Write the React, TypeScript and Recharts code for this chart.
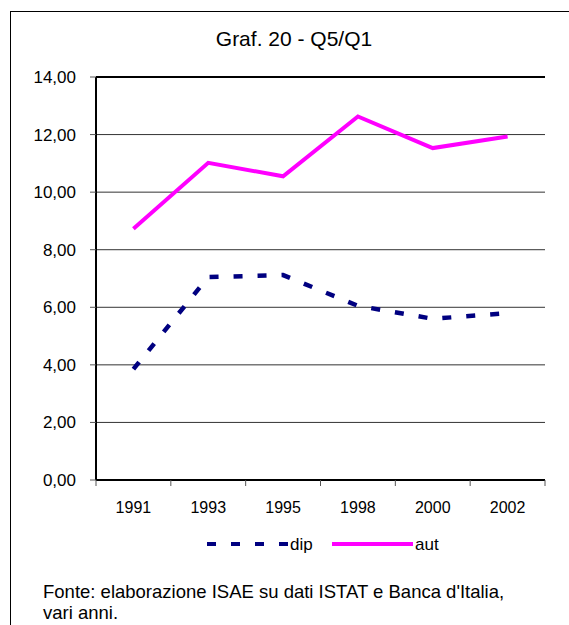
import React from 'react'
import { LineChart, Line, XAxis, YAxis, CartesianGrid, ReferenceLine } from 'recharts'

const years = ['1991', '1993', '1995', '1998', '2000', '2002']
const dip = [3.85, 7.05, 7.12, 6.05, 5.6, 5.8]
const aut = [8.73, 11.02, 10.55, 12.63, 11.53, 11.93]
const yTicks = [0, 2, 4, 6, 8, 10, 12, 14]

const FONT = '"Liberation Sans", Arial, sans-serif'
const fmt = (v: number) => v.toFixed(2).replace('.', ',')

const data = years.map((y, i) => ({ year: y, dip: dip[i], aut: aut[i] }))

const TICK_SIZE = 6
const TICK_MARGIN = 16

// year label plus Excel-style tick marks on the band edges
const YearTick = (props: any) => {
  const { x, y, payload, index, visibleTicksCount } = props
  const half = payload?.offset || 37.4
  const axisY = y - TICK_SIZE - TICK_MARGIN
  const last = index === (visibleTicksCount ?? years.length) - 1
  return (
    <g>
      <line x1={x - half} y1={axisY} x2={x - half} y2={axisY + TICK_SIZE} stroke="#555" />
      {last && <line x1={x + half} y1={axisY} x2={x + half} y2={axisY + TICK_SIZE} stroke="#555" />}
      <text x={x} y={y} dy="0.71em" textAnchor="middle" fontSize={16} fontFamily={FONT} fill="#000">
        {payload.value}
      </text>
    </g>
  )
}

export default function App() {
  return (
    <div
      style={{
        position: 'absolute',
        left: 0,
        top: 0,
        width: 569,
        height: 625,
        overflow: 'hidden',
        background: '#fff',
        fontFamily: FONT,
      }}
    >
      {/* outer frame, runs off the right and bottom of the picture */}
      <div
        style={{
          position: 'absolute',
          left: 10,
          top: 11,
          width: 600,
          height: 700,
          borderLeft: '1px solid #000',
          borderTop: '1px solid #000',
        }}
      />
      <div
        style={{
          position: 'absolute',
          left: 144,
          top: 27,
          width: 300,
          textAlign: 'center',
          fontSize: 21,
          color: '#000',
        }}
      >
        Graf. 20 - Q5/Q1
      </div>

      <div style={{ position: 'absolute', left: 0, top: 0 }}>
        <LineChart
          width={569}
          height={625}
          data={data}
          margin={{ top: 77, right: 24, bottom: 115, left: 0 }}
        >
          <CartesianGrid horizontal vertical={false} stroke="#333" strokeWidth={1} />
          <XAxis
            dataKey="year"
            scale="band"
            height={30}
            tickLine={false}
            tickSize={TICK_SIZE}
            tickMargin={TICK_MARGIN}
            axisLine={{ stroke: '#000', strokeWidth: 2 }}
            tick={<YearTick />}
            interval={0}
          />
          <YAxis
            domain={[0, 14]}
            ticks={yTicks}
            width={96}
            tickFormatter={fmt}
            tickSize={6}
            tickMargin={14}
            tickLine={{ stroke: '#555' }}
            axisLine={{ stroke: '#000', strokeWidth: 2 }}
            tick={{ fill: '#000', fontSize: 17, fontFamily: FONT }}
            interval={0}
          />
          <YAxis
            yAxisId="r"
            orientation="right"
            domain={[0, 14]}
            width={0}
            tick={false}
            tickLine={false}
            axisLine={{ stroke: '#000', strokeWidth: 3 }}
          />
          <ReferenceLine y={14} stroke="#000" strokeWidth={2} />
          <Line
            dataKey="dip"
            stroke="#000080"
            strokeWidth={4.5}
            strokeDasharray="9 15"
            dot={false}
            isAnimationActive={false}
          />
          <Line
            dataKey="aut"
            stroke="#FF00FF"
            strokeWidth={4}
            dot={false}
            isAnimationActive={false}
          />
        </LineChart>
      </div>

      {/* legend */}
      <svg style={{ position: 'absolute', left: 200, top: 533 }} width={240} height={22}>
        <line x1={207 - 200} y1={11} x2={288 - 200} y2={11} stroke="#000080" strokeWidth={4} strokeDasharray="9 15" />
        <text x={290 - 200} y={17} fontSize={17} fontFamily={FONT} fill="#000">dip</text>
        <line x1={332 - 200} y1={11} x2={413 - 200} y2={11} stroke="#FF00FF" strokeWidth={4} />
        <text x={415 - 200} y={17} fontSize={17} fontFamily={FONT} fill="#000">aut</text>
      </svg>

      <div
        style={{
          position: 'absolute',
          left: 43,
          top: 581,
          fontSize: 18.5,
          lineHeight: '21px',
          color: '#000',
        }}
      >
        Fonte: elaborazione ISAE su dati ISTAT e Banca d'Italia,
        <br />
        vari anni.
      </div>
    </div>
  )
}
